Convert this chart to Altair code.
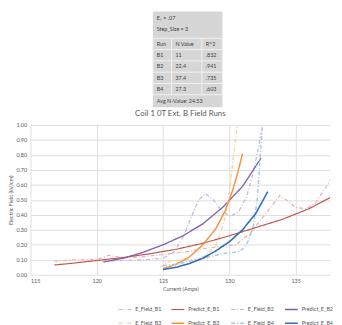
import altair as alt
import pandas as pd

# ---------------- table values ----------------
es_label = "Eₛ = .07"
step_label = "Step_Size = 3"
table_header = ["Run", "N Value", "R^2"]
runs = ["B1", "B2", "B3", "B4"]
n_values = ["11", "22.4", "37.4", "27.3"]
r_squared = [".832", ".941", ".735", ".603"]
avg_label = "Avg N-Value: 24.53"

# ---------------- chart text ----------------
chart_title = "Coil 1 0T Ext. B Field Runs"
x_title = "Current (Amps)"
y_title = "Electric Field (kV/cm)"
x_ticks = [115, 120, 125, 130, 135]
y_ticks = [0.0, 0.1, 0.2, 0.3, 0.4, 0.5, 0.6, 0.7, 0.8, 0.9, 1.0]

series_order = ["E_Field_B1", "Predict_E_B1", "E_Field_B2", "Predict_E_B2",
                "E_Field_B3", "Predict_E_B3", "E_Field_B4", "Predict_E_B4"]

# ---------------- measured series (dash-dot) ----------------
b1_meas_x = [116.8, 117.5, 118.5, 119.5, 120.3, 120.9, 121.5, 122.5, 123.5, 124.5, 125.5, 126.5,
             127.5, 128.5, 129.5, 130.5, 131.5, 132.5, 133.3, 133.8, 134.3, 135.0, 135.8, 136.5, 137.6]
b1_meas_y = [0.09, 0.095, 0.10, 0.10, 0.11, 0.13, 0.12, 0.115, 0.12, 0.13, 0.14, 0.15,
             0.165, 0.18, 0.19, 0.20, 0.27, 0.38, 0.47, 0.53, 0.50, 0.45, 0.44, 0.48, 0.63]

b2_meas_x = [120.4, 122.0, 123.5, 125.0, 125.8, 126.5, 127.2, 127.7, 128.2, 128.8, 129.5,
             130.1, 130.7, 131.3, 131.8, 132.2, 132.4]
b2_meas_y = [0.09, 0.095, 0.10, 0.11, 0.15, 0.25, 0.40, 0.50, 0.54, 0.50, 0.42,
             0.39, 0.42, 0.52, 0.68, 0.85, 0.95]

b3_meas_x = [124.8, 125.5, 126.5, 127.5, 128.3, 129.0, 129.6, 130.0, 130.3, 130.6]
b3_meas_y = [0.05, 0.09, 0.10, 0.10, 0.13, 0.20, 0.35, 0.55, 0.78, 1.00]

b4_meas_x = [125.0, 126.0, 127.0, 128.0, 129.0, 129.8, 130.5, 131.0, 131.4, 131.8, 132.1, 132.3, 132.5]
b4_meas_y = [0.06, 0.07, 0.09, 0.11, 0.13, 0.145, 0.15, 0.17, 0.22, 0.32, 0.50, 0.75, 1.00]

# ---------------- predicted series (solid) ----------------
b1_pred_x = [116.8, 118, 120, 122, 124, 126, 128, 130, 132, 134, 136, 137.6]
b1_pred_y = [0.065, 0.075, 0.095, 0.115, 0.14, 0.17, 0.21, 0.26, 0.315, 0.37, 0.44, 0.515]

b2_pred_x = [120.5, 122, 123.5, 125, 126.5, 128, 129.5, 131, 132.4]
b2_pred_y = [0.085, 0.11, 0.15, 0.20, 0.26, 0.34, 0.45, 0.59, 0.78]

b3_pred_x = [125, 126, 127, 128, 129, 129.7, 130.2, 130.6, 131.0]
b3_pred_y = [0.04, 0.07, 0.12, 0.20, 0.31, 0.43, 0.55, 0.67, 0.81]

b4_pred_x = [125, 126, 127, 128, 129, 130, 131, 132, 132.9]
b4_pred_y = [0.035, 0.05, 0.075, 0.11, 0.16, 0.22, 0.30, 0.41, 0.555]

series_data = {
    "E_Field_B1": (b1_meas_x, b1_meas_y), "Predict_E_B1": (b1_pred_x, b1_pred_y),
    "E_Field_B2": (b2_meas_x, b2_meas_y), "Predict_E_B2": (b2_pred_x, b2_pred_y),
    "E_Field_B3": (b3_meas_x, b3_meas_y), "Predict_E_B3": (b3_pred_x, b3_pred_y),
    "E_Field_B4": (b4_meas_x, b4_meas_y), "Predict_E_B4": (b4_pred_x, b4_pred_y),
}

# series keyed by their legend position ("1".."8") so the legend keeps this order
rows = []
for k, name in enumerate(series_order):
    xs, ys = series_data[name]
    for i, (a, b) in enumerate(zip(xs, ys)):
        rows.append({"key": str(k + 1), "series": name, "current": a, "efield": b, "idx": i})
df = pd.DataFrame(rows)
keys = [str(k + 1) for k in range(len(series_order))]
label_expr = "[" + ",".join("'" + s + "'" for s in series_order) + "][toNumber(datum.label) - 1]"

colors = ["#e9aaa9", "#c0504d", "#c4b6de", "#7f5fa8",
          "#fbcfa6", "#f7923a", "#a8c6ea", "#2e6fba"]
dashes = [[4, 2, 1, 2], [1, 0], [4, 2, 1, 2], [1, 0],
          [4, 2, 1, 2], [1, 0], [4, 2, 1, 2], [1, 0]]
widths = [1.1, 1.6, 1.1, 1.6, 1.1, 1.6, 1.1, 1.6]

FONT = "Lato"
TXT = "#595959"

legend = alt.Legend(title=None, orient="none", legendX=89, legendY=297, columns=4,
                    direction="horizontal", labelExpr=label_expr,
                    symbolType="stroke", symbolSize=170, labelFontSize=5.5,
                    labelColor=TXT, labelFont=FONT, columnPadding=7, rowPadding=3,
                    symbolOffset=0, labelOffset=3, padding=0)

main = alt.Chart(df).mark_line(clip=True).encode(
    x=alt.X("current:Q", title=x_title,
            scale=alt.Scale(domain=[115, 137.6], nice=False, zero=False),
            axis=alt.Axis(values=x_ticks, format="d")),
    y=alt.Y("efield:Q", title=y_title,
            scale=alt.Scale(domain=[0, 1], nice=False),
            axis=alt.Axis(values=y_ticks, format=".2f")),
    color=alt.Color("key:N", scale=alt.Scale(domain=keys, range=colors), legend=legend),
    strokeDash=alt.StrokeDash("key:N", scale=alt.Scale(domain=keys, range=dashes), legend=legend),
    strokeWidth=alt.StrokeWidth("key:N", scale=alt.Scale(domain=keys, range=widths), legend=legend),
    order="idx:Q",
).properties(
    width=306, height=153,
    title=alt.TitleParams(chart_title, fontSize=8, color=TXT, font=FONT,
                          fontWeight="normal", anchor="middle", offset=5),
)

# ---------------- table panel ----------------
TW, TH = 71, 107
LEFT = 125  # empty space to the left of the panel (table units)
txs = alt.Scale(domain=[-LEFT, TW], nice=False, zero=False)
tys = alt.Scale(domain=[0, TH], nice=False, zero=False, reverse=True)

bg = alt.Chart(pd.DataFrame({"x": [0], "x2": [TW], "y": [0], "y2": [TH]})).mark_rect(
    fill="#d6d6d6").encode(
    x=alt.X("x:Q", scale=txs, axis=None), x2="x2",
    y=alt.Y("y:Q", scale=tys, axis=None), y2="y2")

grid_top, row_h = 30, 12.6
n_rows = len(runs) + 1
col_edges = [0, 19, 50, TW]
lines = []
for r in range(n_rows + 1):
    yv = grid_top + r * row_h
    lines.append({"x": 0, "x2": TW, "y": yv, "y2": yv})
for c in col_edges:
    lines.append({"x": c, "x2": c, "y": grid_top, "y2": grid_top + n_rows * row_h})
grid = alt.Chart(pd.DataFrame(lines)).mark_rule(color="#f2f2f2", strokeWidth=1).encode(
    x=alt.X("x:Q", scale=txs, axis=None), x2="x2",
    y=alt.Y("y:Q", scale=tys, axis=None), y2="y2")

texts = [{"x": 4, "y": 7, "t": es_label}, {"x": 4, "y": 20, "t": step_label}]
col_x = [4, 23, 54]
for j, h in enumerate(table_header):
    texts.append({"x": col_x[j], "y": grid_top + row_h / 2, "t": h})
for i in range(len(runs)):
    yv = grid_top + (i + 1.5) * row_h
    for j, v in enumerate([runs[i], n_values[i], r_squared[i]]):
        texts.append({"x": col_x[j], "y": yv, "t": v})
texts.append({"x": 4, "y": grid_top + n_rows * row_h + 7, "t": avg_label})
tt = alt.Chart(pd.DataFrame(texts)).mark_text(
    align="left", baseline="middle", fontSize=5.5, color="#3f3f3f", font=FONT).encode(
    x=alt.X("x:Q", scale=txs, axis=None),
    y=alt.Y("y:Q", scale=tys, axis=None), text="t:N")

table = alt.layer(bg, grid, tt).properties(width=196, height=98)

chart = alt.vconcat(table, main, spacing=3).properties(padding=0).configure_view(
    stroke=None
).configure_axis(
    domain=False, ticks=False, grid=True, gridColor="#dedede", gridWidth=1,
    labelFontSize=5.5, labelColor=TXT, labelFont=FONT, labelPadding=4,
    titleFontSize=5.5, titleColor=TXT, titleFont=FONT, titleFontWeight="normal",
    titlePadding=3,
)

chart.save("out.html", embed_options={"renderer": "svg", "actions": False})
